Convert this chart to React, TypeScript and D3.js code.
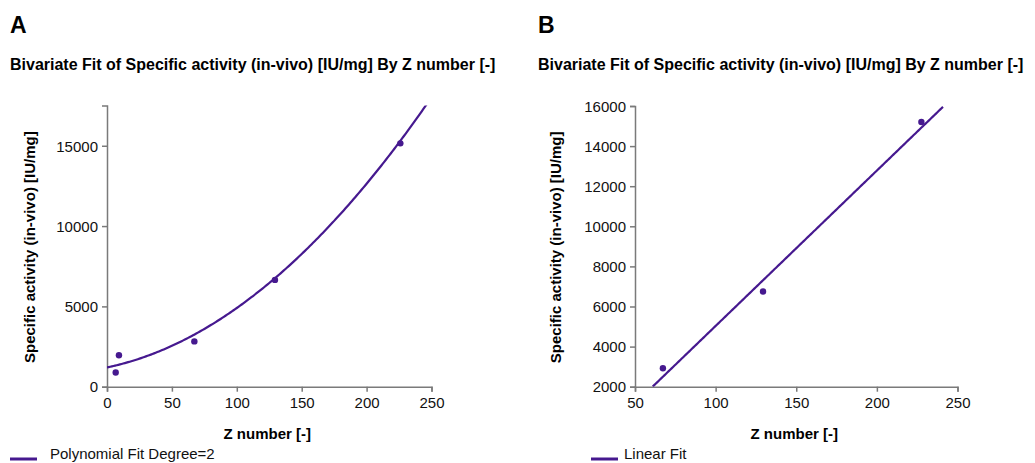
import React, { useEffect, useRef } from "react";
import * as d3 from "d3";

// ---- data ----
const zA = [6.7, 9.2, 67.3, 129.4, 226];
const actA = [880, 1960, 2820, 6650, 15150];
const polyCoefA = [1200, 16.82, 0.2018]; // c0 + c1*x + c2*x^2
const xTicksA = [0, 50, 100, 150, 200, 250];
const yTicksA = [0, 5000, 10000, 15000];

const zB = [67.3, 129.4, 227.6];
const actB = [2920, 6750, 15200];
const linCoefB = [-2720, 77.5];
const fitRangeB = [61, 241];
const xTicksB = [50, 100, 150, 200, 250];
const yTicksB = [2000, 4000, 6000, 8000, 10000, 12000, 14000, 16000];

const FONT = "'Liberation Sans', Arial, Helvetica, sans-serif";
const PURPLE = "#46198f";
const AXIS = "#7a7a7a";

type PanelProps = {
  id: string;
  letter: string;
  left: number;
  title: string;
  xDomain: [number, number];
  xRange: [number, number];
  yDomain: [number, number];
  yRange: [number, number];
  xTicks: number[];
  yTicks: number[];
  xs: number[];
  ys: number[];
  fit: (x: number) => number;
  fitX: [number, number];
  yTitleX: number;
  legend: string;
  legendSwatch: [number, number];
  legendTextX: number;
};

function Panel(p: PanelProps) {
  const gx = useRef<SVGGElement>(null);
  const gy = useRef<SVGGElement>(null);
  const x = d3.scaleLinear().domain(p.xDomain).range(p.xRange);
  const y = d3.scaleLinear().domain(p.yDomain).range(p.yRange);

  useEffect(() => {
    const style = (g: d3.Selection<SVGGElement, unknown, null, undefined>) => {
      g.selectAll("path.domain").attr("stroke", AXIS).attr("stroke-width", 1.5);
      g.selectAll(".tick line").attr("stroke", AXIS).attr("stroke-width", 1.5);
      g.selectAll(".tick text")
        .attr("fill", "#111")
        .style("font-family", FONT)
        .style("font-size", "15px");
    };
    if (gx.current) {
      const g = d3.select(gx.current);
      g.call(
        d3.axisBottom(x).tickValues(p.xTicks).tickSize(5).tickSizeOuter(5).tickPadding(6).tickFormat(d3.format("d"))
      );
      style(g);
    }
    if (gy.current) {
      const g = d3.select(gy.current);
      g.call(
        d3.axisLeft(y).tickValues(p.yTicks).tickSize(5).tickSizeOuter(5).tickPadding(4).tickFormat(d3.format("d"))
      );
      style(g);
      g.selectAll(".tick text").attr("dy", "0.35em");
    }
  });

  const n = 200;
  const pts: [number, number][] = d3.range(n + 1).map((i) => {
    const xv = p.fitX[0] + ((p.fitX[1] - p.fitX[0]) * i) / n;
    return [xv, p.fit(xv)];
  });
  const line = d3
    .line<[number, number]>()
    .x((d) => x(d[0]))
    .y((d) => y(d[1]));

  const [r0, r1] = p.xRange;
  const clipId = "clip-" + p.id;
  return (
    <g>
      <text x={p.left} y={33} style={{ fontFamily: FONT, fontWeight: 700, fontSize: 23 }}>
        {p.letter}
      </text>
      <text x={p.left} y={70} style={{ fontFamily: FONT, fontWeight: 700, fontSize: 16 }}>
        {p.title}
      </text>
      <defs>
        <clipPath id={clipId}>
          <rect x={r0} y={p.yRange[1]} width={r1 - r0} height={p.yRange[0] - p.yRange[1]} />
        </clipPath>
      </defs>
      <g ref={gx} transform={`translate(0,${p.yRange[0]})`} />
      <g ref={gy} transform={`translate(${r0},0)`} />
      <path d={line(pts) || ""} fill="none" stroke={PURPLE} strokeWidth={2.2} clipPath={`url(#${clipId})`} />
      {p.xs.map((xv, i) => (
        <circle key={i} cx={x(xv)} cy={y(p.ys[i])} r={3.2} fill={PURPLE} />
      ))}
      <text
        transform={`translate(${p.yTitleX},${(p.yRange[0] + p.yRange[1]) / 2 + 1}) rotate(-90)`}
        textAnchor="middle"
        style={{ fontFamily: FONT, fontWeight: 700, fontSize: 15 }}
      >
        Specific activity (in-vivo) [IU/mg]
      </text>
      <text
        x={(r0 + r1) / 2 - 2}
        y={439}
        textAnchor="middle"
        style={{ fontFamily: FONT, fontWeight: 700, fontSize: 15 }}
      >
        Z number [-]
      </text>
      <line x1={p.legendSwatch[0]} x2={p.legendSwatch[1]} y1={459} y2={459} stroke={PURPLE} strokeWidth={3} />
      <text x={p.legendTextX} y={459} style={{ fontFamily: FONT, fontSize: 15 }} fill="#111">
        {p.legend}
      </text>
    </g>
  );
}

export default function App() {
  const title = "Bivariate Fit of Specific activity (in-vivo) [IU/mg] By Z number [-]";
  return (
    <svg
      width={1035}
      height={463}
      style={{ position: "absolute", left: 0, top: 0, background: "#fff" }}
    >
      <rect width={1035} height={463} fill="#fff" />
      <Panel
        id="a"
        letter="A"
        left={10}
        title={title}
        xDomain={[0, 250]}
        xRange={[107, 431.5]}
        yDomain={[0, 17500]}
        yRange={[386.7, 105.6]}
        xTicks={xTicksA}
        yTicks={yTicksA}
        xs={zA}
        ys={actA}
        fit={(xv) => polyCoefA[0] + polyCoefA[1] * xv + polyCoefA[2] * xv * xv}
        fitX={[0, 250]}
        yTitleX={35}
        legend="Polynomial Fit Degree=2"
        legendSwatch={[10, 37]}
        legendTextX={50}
      />
      <Panel
        id="b"
        letter="B"
        left={538}
        title={title}
        xDomain={[50, 250]}
        xRange={[635, 957.5]}
        yDomain={[2000, 16000]}
        yRange={[386.7, 106]}
        xTicks={xTicksB}
        yTicks={yTicksB}
        xs={zB}
        ys={actB}
        fit={(xv) => linCoefB[0] + linCoefB[1] * xv}
        fitX={[fitRangeB[0], fitRangeB[1]]}
        yTitleX={561}
        legend="Linear Fit"
        legendSwatch={[591, 618]}
        legendTextX={624}
      />
    </svg>
  );
}
